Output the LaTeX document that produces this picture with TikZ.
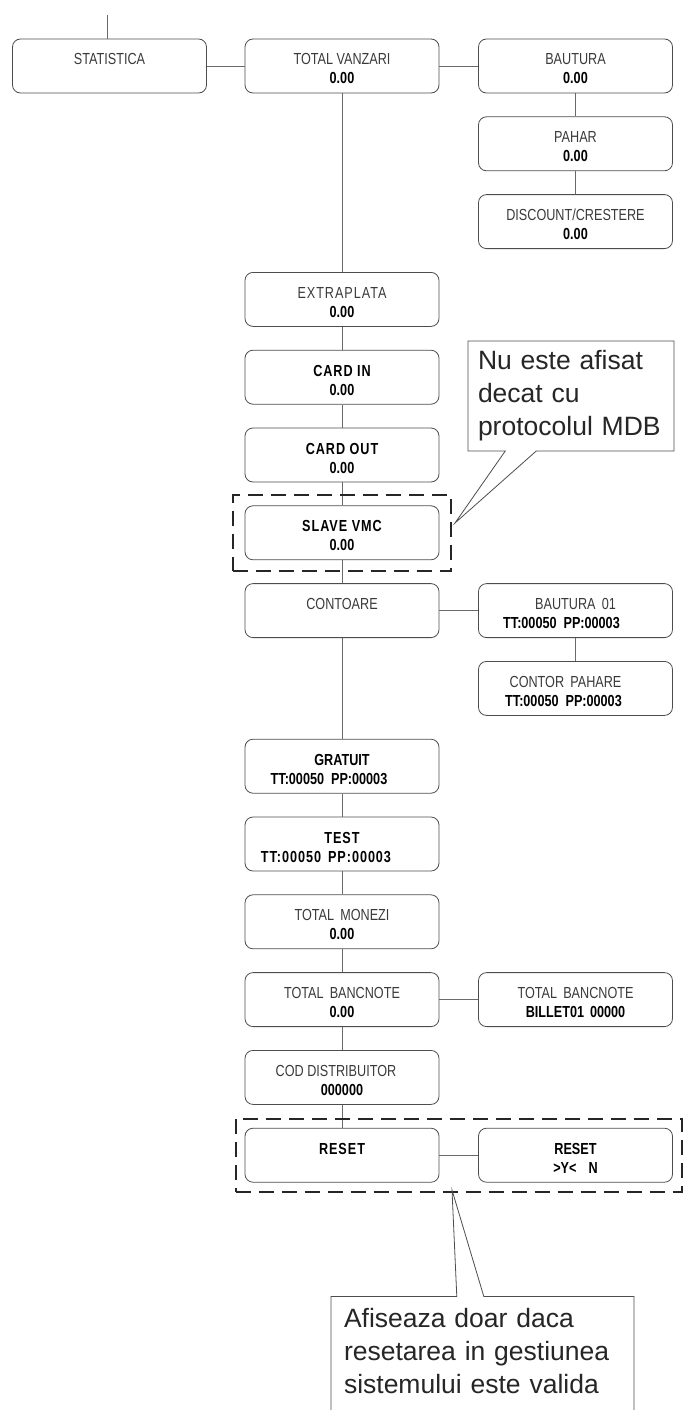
\documentclass[tikz,border=0pt]{standalone}
\usepackage{fontspec}
\setmainfont{Liberation Sans}
\newfontfamily\narrowsf{Liberation Sans}[FakeStretch=0.79]
\usetikzlibrary{shapes.callouts,fit}
\definecolor{framegray}{HTML}{4D4D4D}
\definecolor{linkgray}{HTML}{6A6A6A}
\definecolor{labelgray}{HTML}{3A3A3A}
% two display rows, baselines fixed inside the box
\newcommand\tworow[2]{#1\rule{0pt}{20pt}\\#2\rule[-3pt]{0pt}{3pt}}
\newcommand\bval[1]{{\bfseries\color{black}#1}}
\newcommand\spaced[1]{{\addfontfeature{LetterSpace=6}#1}}

\begin{document}
\begin{tikzpicture}[x=1pt,y=-1pt,line width=.8pt,
  menubox/.style={draw=framegray,rounded corners=8pt,minimum width=194pt,minimum height=54pt,
    inner sep=2pt,align=center,font=\narrowsf\fontsize{16}{19}\selectfont,text=labelgray},
  link/.style={draw=linkgray},
  dashbox/.style={draw=black!85,line width=2pt,dash pattern=on 15pt off 8pt},
  note/.style={rectangle callout,draw=framegray,fill=white,align=left,
    font=\fontsize{26.5}{33}\selectfont,text=black!85}]
\useasboundingbox (0,0) rectangle (683,1410);
\clip (0,0) rectangle (683,1410);

% first row
\coordinate (top) at (107,15);
\node[menubox] (stat) at (109.5,66) {\tworow{STATISTICA}{}};
\node[menubox] (sales) at (342,66) {\tworow{TOTAL VANZARI}{\bval{0.00}}};
\node[menubox] (drink) at (575.5,66) {\tworow{BAUTURA}{\bval{0.00}}};
\node[menubox] (cup) at (575.5,143.8) {\tworow{PAHAR}{\bval{0.00}}};
\node[menubox] (disc) at (575.5,221.6) {\tworow{DISCOUNT/CRESTERE}{\bval{0.00}}};

% middle column
\node[menubox] (extra) at (342,299.4) {\tworow{\spaced{EXTRAPLATA}}{\bval{0.00}}};
\node[menubox] (cardin) at (342,377.2) {\tworow{\bval{\spaced{CARD IN}}}{\bval{0.00}}};
\node[menubox] (cardout) at (342,455) {\tworow{\bval{\spaced{CARD OUT}}}{\bval{0.00}}};
\node[menubox] (slave) at (342,532.8) {\tworow{\bval{\spaced{SLAVE VMC}}}{\bval{0.00}}};
\node[menubox] (count) at (342,610.6) {\tworow{CONTOARE}{}};
\node[menubox] (free) at (342,766.2) {\tworow{\bval{GRATUIT}}{\bval{TT:00050\hspace{7pt}PP:00003}\hspace*{26pt}}};
\node[menubox] (test) at (342,844) {\tworow{\bval{\spaced{TEST}}}{\bval{\spaced{TT:00050\hspace{7pt}PP:00003}}\hspace*{32pt}}};
\node[menubox] (coins) at (342,921.8) {\tworow{TOTAL\, MONEZI}{\bval{0.00}}};
\node[menubox] (notes) at (342,999.6) {\tworow{TOTAL\, BANCNOTE}{\bval{0.00}}};
\node[menubox] (code) at (342,1077.4) {\tworow{COD DISTRIBUITOR\hspace*{12pt}}{\bval{000000}}};
\node[menubox] (reset) at (342,1155.2) {\tworow{\bval{\spaced{RESET}}}{}};

% right column
\node[menubox] (drinkcnt) at (575.5,610.6) {\tworow{BAUTURA\, 01}{\bval{TT:00050\hspace{7pt}PP:00003}\hspace*{28pt}}};
\node[menubox] (cupcnt) at (575.5,688.4) {\tworow{CONTOR\, PAHARE\hspace*{20pt}}{\bval{TT:00050\hspace{7pt}PP:00003}\hspace*{24pt}}};
\node[menubox] (notelist) at (575.5,999.6) {\tworow{TOTAL\, BANCNOTE}{\bval{BILLET01\hspace{6pt}00000}}};
\node[menubox] (confirm) at (575.5,1155.2) {\tworow{\bval{RESET}}{\bval{>Y<\hspace{12pt}N}}};

% connectors
\draw[link] (top) -- (top |- stat.north);
\draw[link] (stat) -- (sales);
\draw[link] (sales) -- (drink);
\draw[link] (drink) -- (cup) -- (disc);
\draw[link] (sales) -- (extra) -- (cardin) -- (cardout) -- (slave) -- (count) -- (free)
  -- (test) -- (coins) -- (notes) -- (code) -- (reset);
\draw[link] (count) -- (drinkcnt);
\draw[link] (drinkcnt) -- (cupcnt);
\draw[link] (notes) -- (notelist);
\draw[link] (reset) -- (confirm);

% optional items
\node[dashbox,fit=(slave),inner xsep=12pt,inner ysep=10.5pt] (mdbframe) {};
\node[dashbox,fit=(reset)(confirm),inner sep=9pt] (resetframe) {};

% notes
\node[note,text width=186pt,inner xsep=10pt,inner ysep=2pt,minimum height=110pt,
  callout absolute pointer={(455,523)},callout pointer width=31pt] (mdbnote) at (571,396)
  {Nu este afisat\\decat cu\\protocolul MDB};
\node[note,text width=277pt,inner xsep=13pt,inner ysep=12pt,anchor=north,
  callout absolute pointer={(452,1190)},callout pointer width=27pt] (resetnote) at (482.5,1296)
  {Afiseaza doar daca\\resetarea in gestiunea\\sistemului este valida\\\mbox{}};
\end{tikzpicture}
\end{document}
